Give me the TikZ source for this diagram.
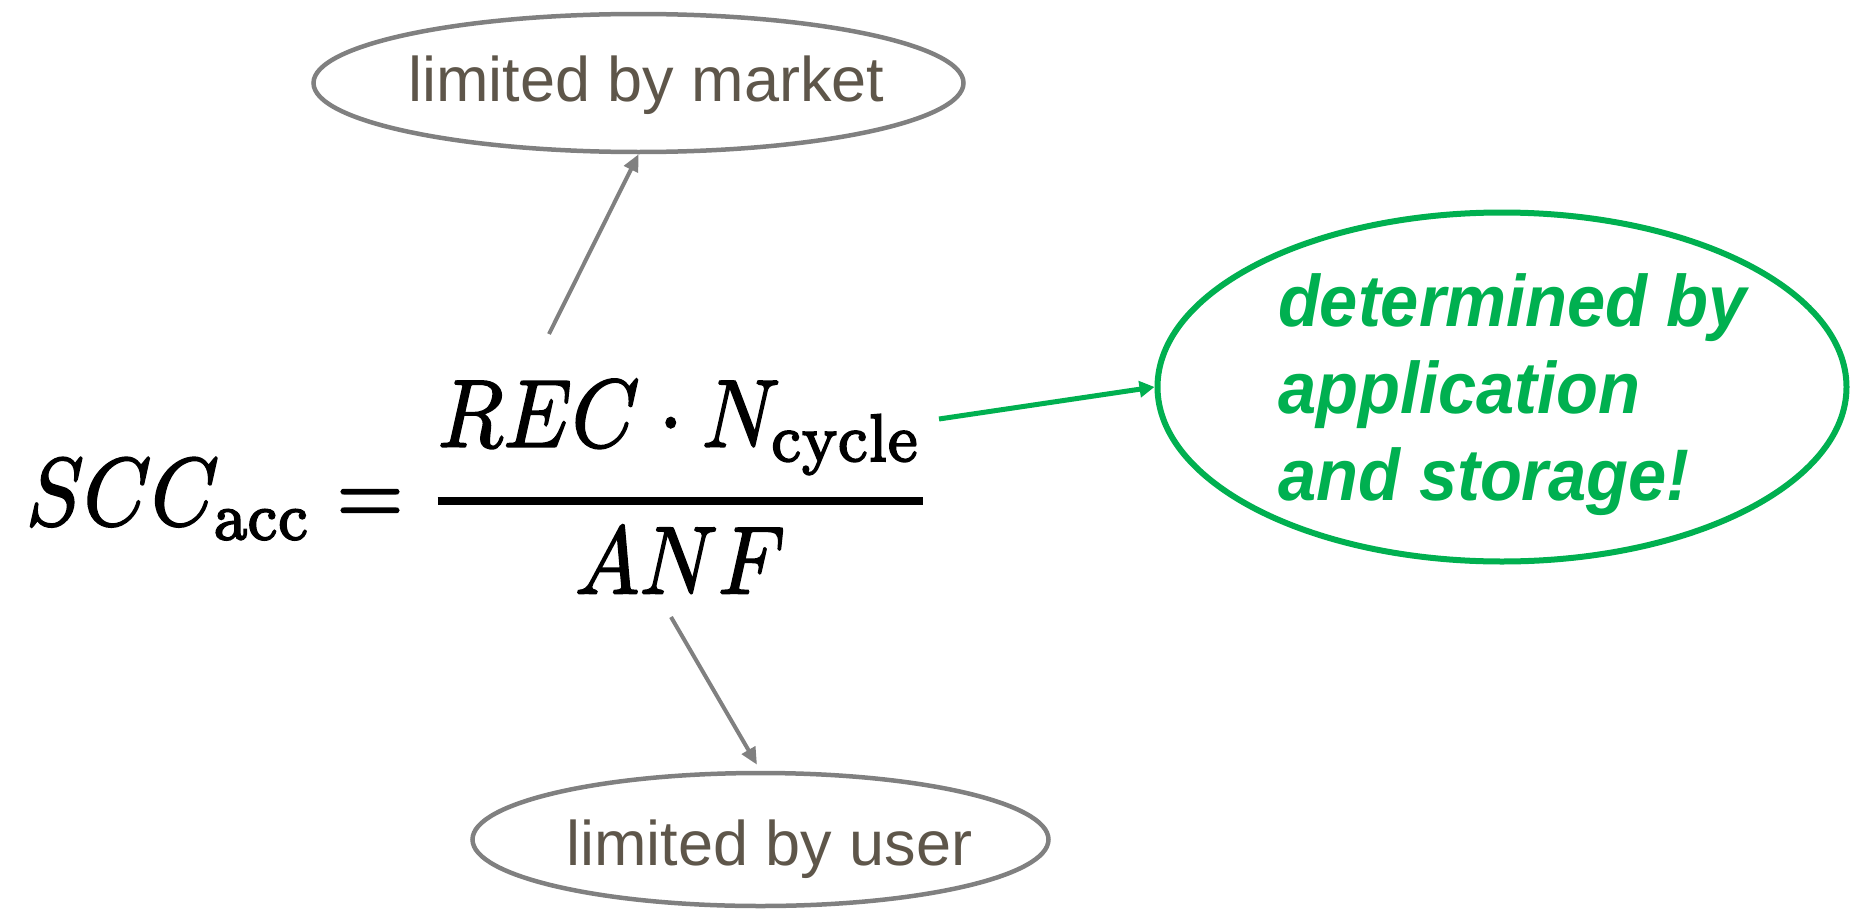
\documentclass[tikz,border=0pt]{standalone}
\usepackage{amsmath}
\usepackage{graphicx}
\usepackage[no-math]{fontspec}
\setmainfont{Liberation Sans}
\usetikzlibrary{shapes.geometric,arrows.meta}

\definecolor{ringgray}{RGB}{128,128,128}
\definecolor{labelgray}{RGB}{94,86,74}
\definecolor{accgreen}{RGB}{0,176,80}

% text placed with its baseline at (dx,dy) from the node centre, not sizing the node
\newcommand{\placedtext}[3]{\raisebox{#2}[0pt][0pt]{\makebox[0pt]{\hspace*{#1}#3}}}

\tikzset{
  ring/.style={ellipse, draw=ringgray, line width=4.5pt, inner sep=0pt,
    text=labelgray, font=\fontsize{63}{70}\selectfont},
  greenring/.style={ellipse, draw=accgreen, line width=6pt, inner sep=0pt,
    text=accgreen, font=\fontsize{73}{87}\selectfont\bfseries\itshape},
  grayarrow/.style={draw=ringgray, line width=4pt,
    -{Triangle[length=17pt,width=15pt]}},
  greenarrow/.style={draw=accgreen, line width=5pt,
    -{Triangle[length=15pt,width=16pt]}},
}

\begin{document}
\begin{tikzpicture}[x=1pt,y=-1pt]
  \useasboundingbox (0,0) rectangle (1850,910);

  % the formula, set at 10pt, enlarged, with slightly heavier strokes
  \node (eq) [anchor=base west, inner sep=0pt] at (26,525)
    {\special{pdf:code 2 Tr 0.2 w}\scalebox{8.6}[9.6]{\fontsize{10}{12}\selectfont
      $\displaystyle SCC_{\mathrm{acc}}=\genfrac{}{}{0.8pt}{0}{REC\cdot N_{\mathrm{cycle}}}{ANF}$}\special{pdf:code 0 Tr}};

  % annotations
  \node (market) [ring, minimum width=650pt, minimum height=138pt] at (638.5,83)
    {\placedtext{16pt}{-18pt}{limited by market}};
  \node (user) [ring, minimum width=576pt, minimum height=133pt] at (760.5,839.5)
    {\placedtext{18pt}{-25.5pt}{limited by user}};
  \node (app) [greenring, minimum width=689pt, minimum height=349pt] at (1502,387)
    {\raisebox{61pt}[0pt][0pt]{\makebox[0pt][l]{\hspace*{-224pt}\scalebox{0.94}[1]{%
      \begin{tabular}[t]{@{}l@{}}determined by\\application\\and storage!\end{tabular}}}}};

  % connectors from the formula terms
  \coordinate (rec-src) at (549,334);
  \coordinate (anf-src) at (671,617);
  \coordinate (cyc-src) at (939,419);

  \draw[grayarrow] (rec-src) -- (market.south);
  \draw[grayarrow, shorten >=7pt] (anf-src) -- (user.north);
  \draw[greenarrow] (cyc-src) -- (app.west);
\end{tikzpicture}
\end{document}
